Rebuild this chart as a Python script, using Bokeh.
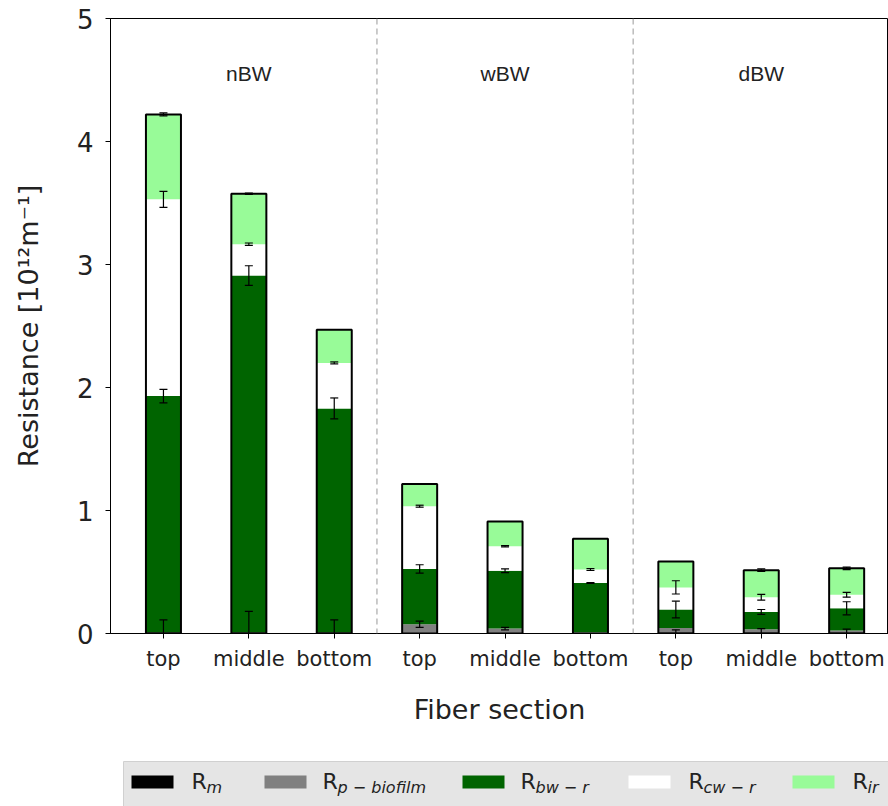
import numpy as np
from bokeh.plotting import figure
from bokeh.models import (Range1d, FixedTicker, Span, Whisker, TeeHead,
                          ColumnDataSource)
from bokeh.layouts import column
from bokeh.core.properties import value
from bokeh.embed import file_html
from bokeh.resources import INLINE

# ---------------- data ----------------
groups = ["nBW", "wBW", "dBW"]
sections = ["top", "middle", "bottom"]
x_pos = list(range(9))
group_centers = [1, 4, 7]
group_dividers = [2.5, 5.5]

R_m = [0.01, 0.01, 0.01, 0.005, 0.005, 0.005, 0.01, 0.01, 0.01]
R_p = [0.0, 0.0, 0.0, 0.07, 0.035, 0.005, 0.035, 0.025, 0.015]
R_bw = [1.92, 2.90, 1.82, 0.45, 0.47, 0.40, 0.15, 0.14, 0.18]
R_cw = [1.60, 0.255, 0.37, 0.51, 0.20, 0.11, 0.18, 0.12, 0.11]
R_ir = [0.69, 0.41, 0.27, 0.18, 0.20, 0.25, 0.21, 0.22, 0.215]

err_m = [0.10, 0.17, 0.10, 0.0, 0.0, 0.0, 0.02, 0.03, 0.025]
err_p = [0.0, 0.0, 0.0, 0.025, 0.01, 0.0, 0.0, 0.0, 0.0]
err_bw = [0.055, 0.08, 0.085, 0.034, 0.015, 0.003, 0.068, 0.02, 0.053]
err_cw = [0.065, 0.01, 0.008, 0.008, 0.005, 0.008, 0.054, 0.023, 0.02]
err_ir = [0.012, 0.005, 0.0, 0.0, 0.0, 0.0, 0.0, 0.01, 0.01]

components = ["R_m", "R_p", "R_bw", "R_cw", "R_ir"]
colors = ["#000000", "#808080", "#006400", "#ffffff", "#98fb98"]
legend_main = ["R", "R", "R", "R", "R"]
legend_sub = ["m", "p \u2212 biofilm", "bw \u2212 r", "cw \u2212 r", "ir"]
y_ticks = [0, 1, 2, 3, 4, 5]

# ---------------- main plot ----------------
tick_labels = {i: sections[i % 3] for i in x_pos}

p = figure(width=888, height=760, output_backend="svg", toolbar_location=None,
           x_range=Range1d(-0.62, 8.49), y_range=Range1d(0, 5),
           min_border_left=110, min_border_right=0, min_border_top=18,
           min_border_bottom=127)
p.xgrid.visible = False
p.ygrid.visible = False
p.outline_line_color = "black"
p.outline_line_width = 1
p.background_fill_color = "white"
p.border_fill_color = "white"

src = ColumnDataSource(dict(x=x_pos, R_m=R_m, R_p=R_p, R_bw=R_bw, R_cw=R_cw, R_ir=R_ir))
bar_w = 0.41
p.vbar_stack(components, x="x", width=bar_w, color=colors, line_color=None,
             source=src)

tot = np.array(R_m) + np.array(R_p) + np.array(R_bw) + np.array(R_cw) + np.array(R_ir)
p.vbar(x=x_pos, top=tot.tolist(), bottom=0, width=bar_w, fill_color=None,
       line_color="black", line_width=2)

# error bars at cumulative tops
vals = [R_m, R_p, R_bw, R_cw, R_ir]
errs = [err_m, err_p, err_bw, err_cw, err_ir]
cum = np.zeros(9)
for v, e in zip(vals, errs):
    cum = cum + np.array(v)
    e = np.array(e)
    mask = e > 0
    xs = np.array(x_pos)[mask]
    ws = ColumnDataSource(dict(base=xs.tolist(),
                               upper=(cum[mask] + e[mask]).tolist(),
                               lower=(cum[mask] - e[mask]).tolist()))
    wk = Whisker(source=ws, base="base", upper="upper", lower="lower",
                 level="overlay", line_color="black", line_width=1.2,
                 upper_head=TeeHead(size=8, line_color="black", line_width=1.2),
                 lower_head=TeeHead(size=8, line_color="black", line_width=1.2))
    p.add_layout(wk)

for d in group_dividers:
    p.add_layout(Span(location=d, dimension="height", line_color="#aaaaaa",
                      line_dash="6 4", line_width=1.2))

p.text(x=group_centers, y=[4.55] * 3, text=groups, text_align="center",
       text_baseline="middle", text_font=value("Liberation Sans"),
       text_font_size="21px", text_color="#222222")

p.xaxis.ticker = FixedTicker(ticks=x_pos)
p.xaxis.major_label_overrides = tick_labels
p.yaxis.ticker = FixedTicker(ticks=y_ticks)
for ax in (p.xaxis[0], p.yaxis[0]):
    ax.major_tick_in = 0
    ax.major_tick_out = 5
    ax.minor_tick_line_color = None
    ax.axis_line_color = "black"
    ax.major_tick_line_color = "black"
    ax.major_label_text_font = "DejaVu Sans"
    ax.major_label_text_color = "#222222"
    ax.axis_label_text_font = "DejaVu Sans"
    ax.axis_label_text_font_style = "normal"
    ax.axis_label_text_color = "#222222"
    ax.axis_label_text_font_size = "27px"

p.xaxis.major_label_text_font_size = "21px"
p.xaxis.major_label_standoff = 8
p.xaxis.axis_label = "Fiber section"
p.xaxis.axis_label_standoff = 20
p.yaxis.major_label_text_font_size = "26px"
p.yaxis.major_label_standoff = 12
p.yaxis.axis_label = "Resistance [10\u00b9\u00b2m\u207b\u00b9]"
p.yaxis.axis_label_standoff = 30

# ---------------- legend strip ----------------
leg = figure(width=888, height=46, output_backend="svg", toolbar_location=None,
             x_range=Range1d(110, 888), y_range=Range1d(0, 46),
             min_border_left=110, min_border_right=0, min_border_top=0,
             min_border_bottom=0)
leg.axis.visible = False
leg.xgrid.visible = False
leg.ygrid.visible = False
leg.outline_line_color = None
leg.background_fill_color = "white"
leg.border_fill_color = "white"

leg.quad(left=[123], right=[900], bottom=[-10], top=[45],
         fill_color="#e5e5e5", line_color="#d0d0d0", line_width=1)
sw_left = [131, 264, 462, 628, 792]
lab_x = [191, 322, 520, 688, 852]
leg.quad(left=sw_left, right=[s + 42 for s in sw_left], bottom=[18] * 5,
         top=[31] * 5, fill_color=colors, line_color=None)
leg.text(x=lab_x, y=[25] * 5, text=legend_main, text_baseline="middle",
         text_font=value("DejaVu Sans"), text_font_size="22px",
         text_color="#222222")
leg.text(x=[x + 15 for x in lab_x], y=[19] * 5, text=legend_sub,
         text_baseline="middle", text_font=value("DejaVu Sans"),
         text_font_size="16px", text_font_style="italic", text_color="#222222")

layout = column(p, leg, spacing=0)
open("out.html", "w").write(file_html(layout, INLINE))
